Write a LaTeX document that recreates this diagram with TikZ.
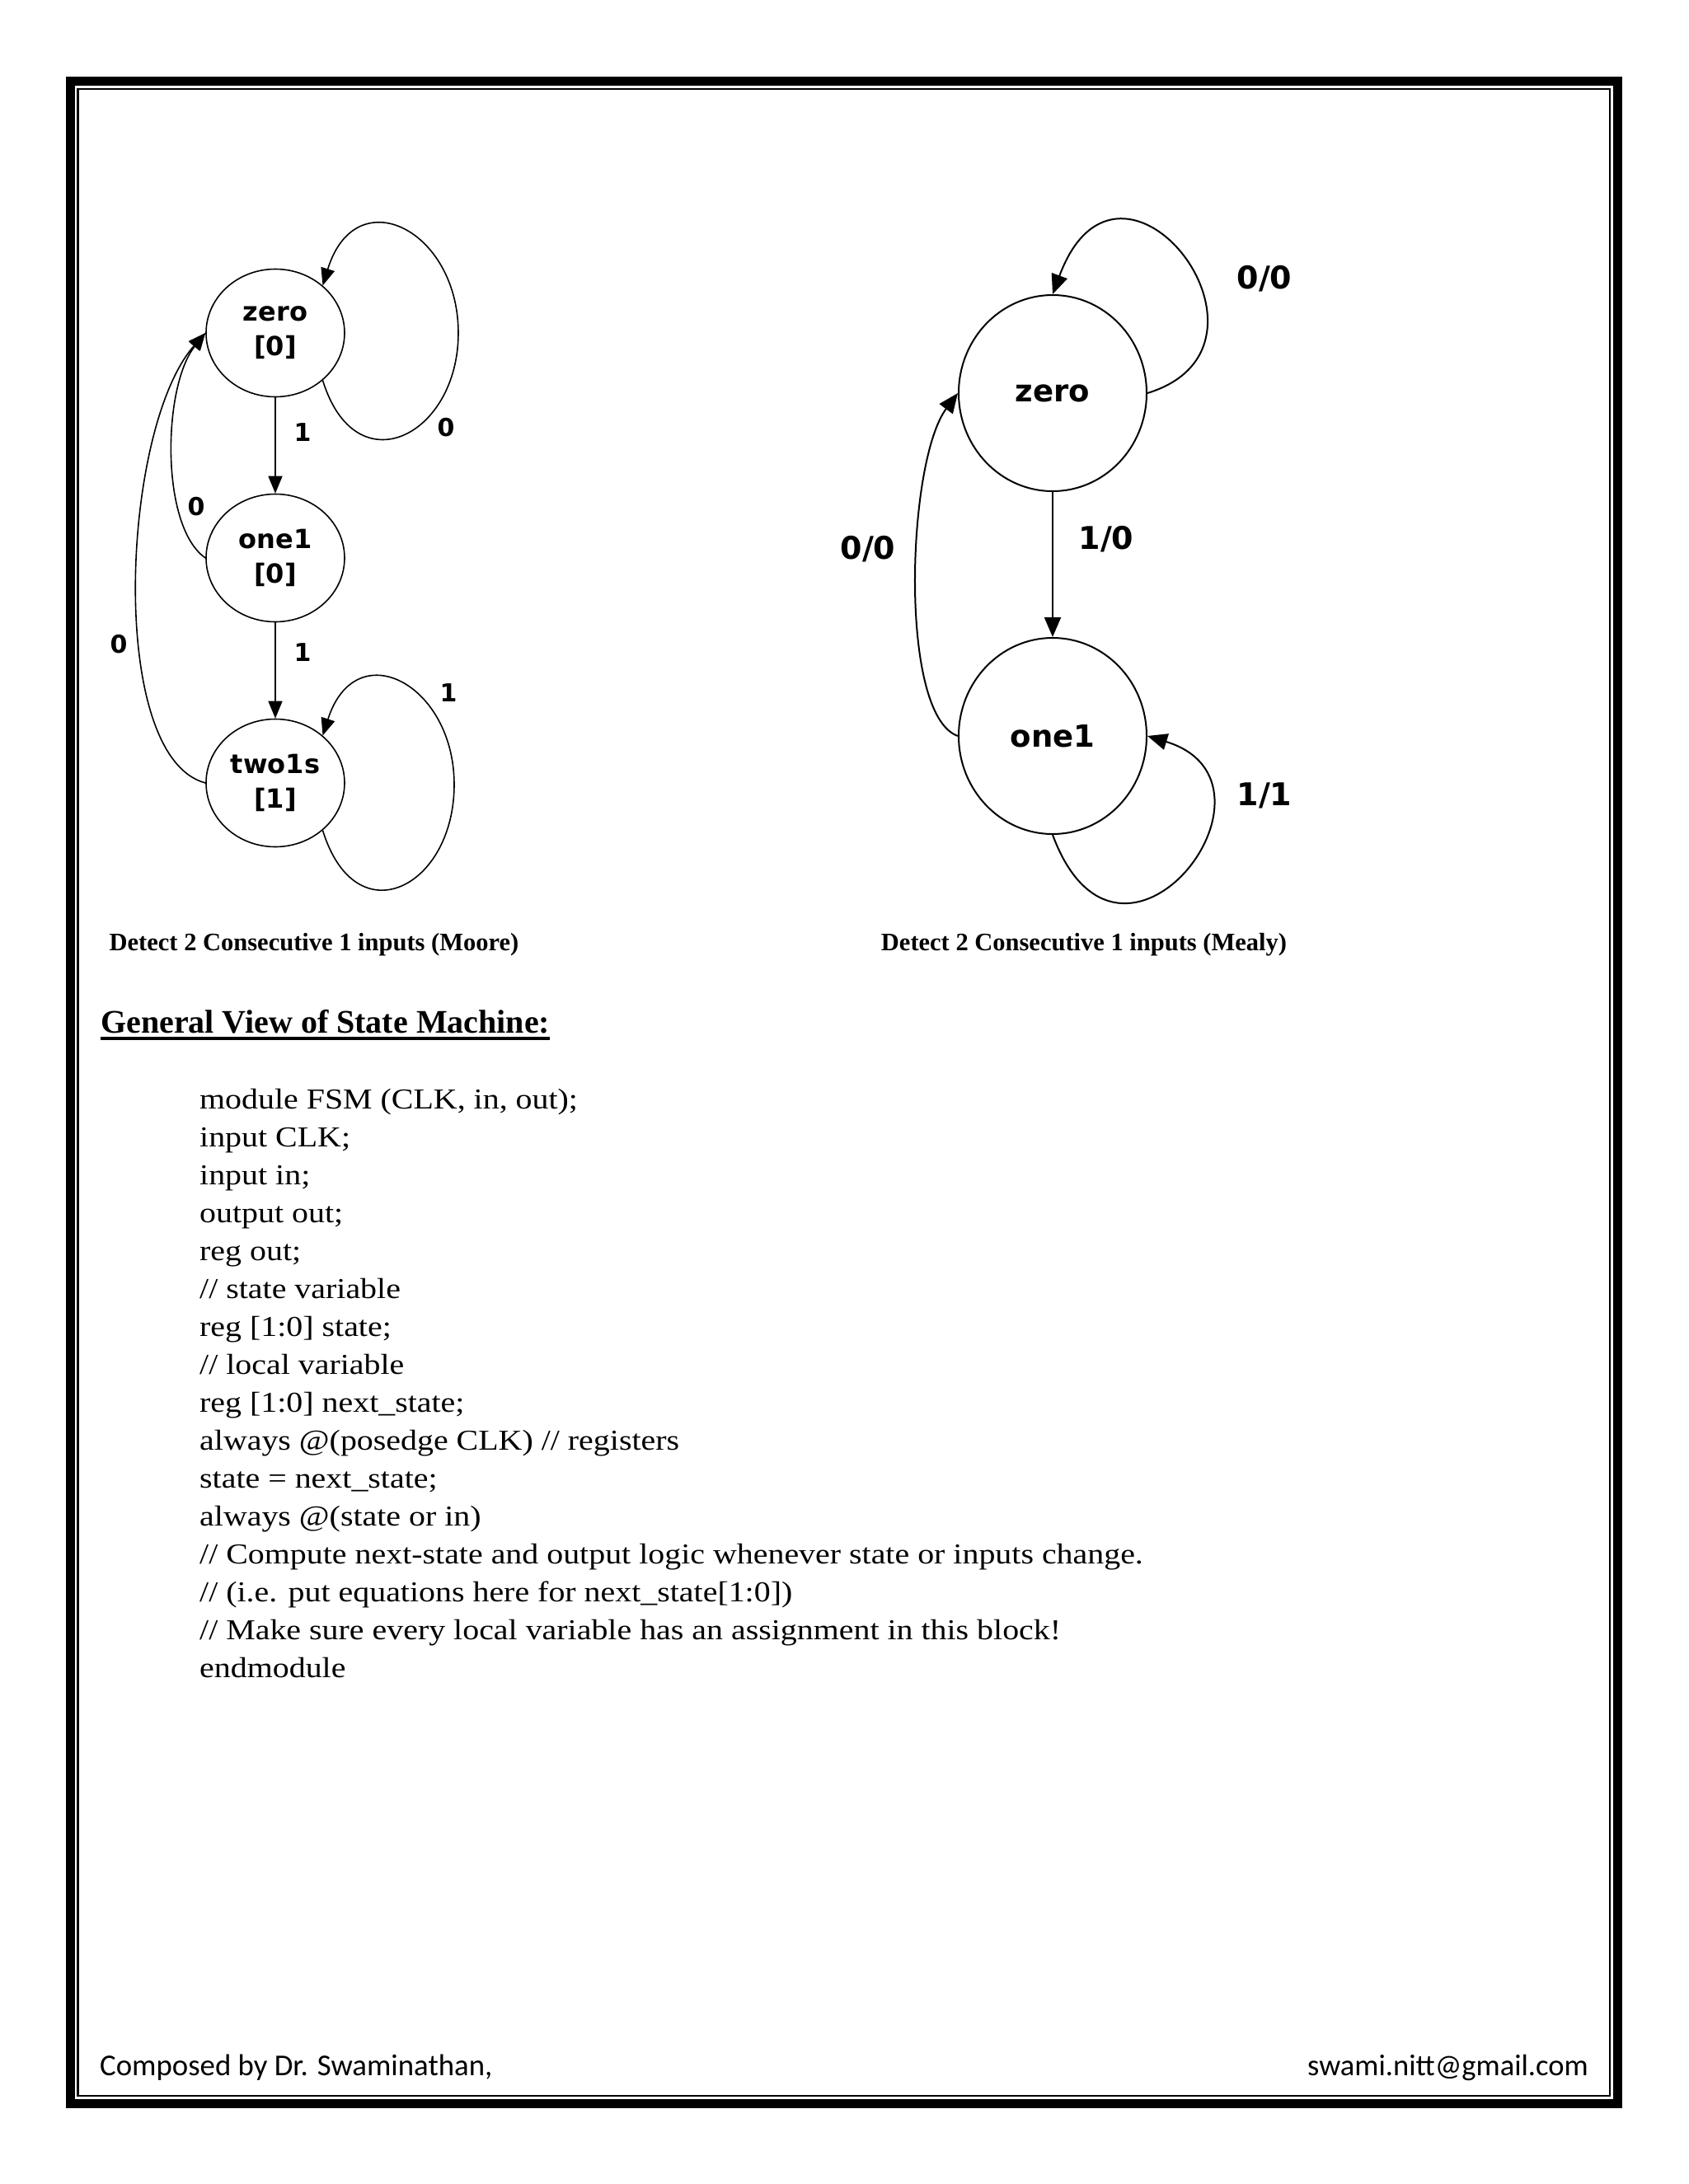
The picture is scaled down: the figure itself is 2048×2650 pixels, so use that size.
\documentclass[tikz,border=0pt]{standalone}
\usepackage{fontspec}
\setmainfont{Liberation Serif}
\newfontfamily\codefont[FakeStretch=1.14]{Liberation Serif}
\newfontfamily\statefont{DejaVu Sans}
\newfontfamily\footfont{Carlito}
\usetikzlibrary{shapes.geometric,arrows.meta}

\begin{document}
\begin{tikzpicture}[x=1pt,y=1pt,
    moore/.style={draw, ellipse, line width=1.6pt, minimum width=168pt, minimum height=155pt,
      inner sep=0pt, align=center, font=\statefont\bfseries\fontsize{32}{42}\selectfont},
    mealy/.style={draw, ellipse, line width=2pt, minimum width=228pt, minimum height=238pt,
      inner sep=0pt, font=\statefont\bfseries\fontsize{37}{44}\selectfont},
    trans/.style={line width=1.6pt, -{Triangle[length=21pt,width=17pt]}},
    mtrans/.style={line width=2pt, -{Triangle[length=24pt,width=20pt]}},
    lbl/.style={font=\statefont\bfseries\fontsize{30}{36}\selectfont},
    mlbl/.style={font=\statefont\bfseries\fontsize{38}{44}\selectfont},
    code/.style={anchor=base west, inner sep=0pt, font=\codefont\fontsize{35}{46}\selectfont}]
        \useasboundingbox (0,0) rectangle (2048,-2650);

        % page frame: thick outer line, thin inner line
        \draw[line width=11pt] (85.5,-98) rectangle (1962.5,-2552);
        \draw[line width=2.5pt] (94.5,-108) rectangle (1953,-2543);

        % Moore machine
        \node[moore] (m0) at (334,-404) {zero\\{[0]}};
        \node[moore] (m1) at (334,-677) {one1\\{[0]}};
        \node[moore] (m2) at (334,-950) {two1s\\{[1]}};
        \coordinate (r0) at (556,-404); % right side of the self loops
        \coordinate (r2) at (551,-952);

        \draw[trans] (m0) -- (m1);
        \draw[trans] (m1) -- (m2);
        \draw[trans] (m0.-45) .. controls +(40,-130) and +(0,-125) .. (r0)
                              .. controls +(0,125) and +(40,130) .. (m0.45);
        \draw[trans] (m2.-45) .. controls +(40,-130) and +(0,-125) .. (r2)
                              .. controls +(0,122) and +(40,125) .. (m2.45);
        \draw[trans] (m1.west) .. controls +(-55,38) and +(-52,-65) .. (m0.west);
        \draw[trans] (m2.west) .. controls +(-120,32) and +(-102,-115) .. (m0.west);

        \node[lbl] (l01) at (367,-525) {1};
        \node[lbl] (l12) at (367,-792) {1};
        \node[lbl] (l00) at (541,-519) {0};
        \node[lbl] (l10) at (238,-615) {0};
        \node[lbl] (l20) at (144,-782) {0};
        \node[lbl] (l22) at (544,-841) {1};

        % Mealy machine
        \node[mealy] (z0) at (1277,-477) {zero};
        \node[mealy] (z1) at (1277,-893) {one1};

        \draw[mtrans] (z0) -- (z1);
        \draw[mtrans] (z0.east) .. controls +(186,57) and +(82,221) .. (z0.north);
        \draw[mtrans] (z1.south) .. controls +(82,-221) and +(186,-57) .. (z1.east);
        \draw[mtrans] (z1.west) .. controls +(-72,25) and +(-62,-83) .. (z0.west);

        \node[mlbl] (k00) at (1534,-338) {0/0};
        \node[mlbl] (k01) at (1342,-654) {1/0};
        \node[mlbl] (k10) at (1053,-666) {0/0};
        \node[mlbl] (k11) at (1534,-965) {1/1};

        % captions
        \node[anchor=base, inner sep=0pt, font=\bfseries\fontsize{30.5}{36}\selectfont] (capA) at (381,-1153)
          {Detect 2 Consecutive 1 inputs (Moore)};
        \node[anchor=base, inner sep=0pt, font=\bfseries\fontsize{30.5}{36}\selectfont] (capB) at (1315,-1153)
          {Detect 2 Consecutive 1 inputs (Mealy)};

        % heading
        \node[anchor=base west, inner sep=0pt, font=\bfseries\fontsize{40}{48}\selectfont] (head) at (122,-1253)
          {General View of State Machine:};
        \draw[line width=4pt] ([yshift=-7pt]head.base west) -- ([yshift=-7pt]head.base east);

        % Verilog skeleton
        \foreach \ln [count=\i] in {{module FSM (CLK, in, out);}, {input CLK;}, {input in;}, {output out;},
            {reg out;}, {// state variable}, {reg [1:0] state;}, {// local variable},
            {reg [1:0] next\_state;}, {always @(posedge CLK) // registers}, {state = next\_state;},
            {always @(state or in)}, {// Compute next-state and output logic whenever state or inputs change.},
            {// (i.e. put equations here for next\_state[1:0])},
            {// Make sure every local variable has an assignment in this block!}, {endmodule}}
          \node[code] (code\i) at (242,{-1345-46*(\i-1)}) {\ln};

        % footer
        \node[anchor=base west, inner sep=0pt, font=\footfont\fontsize{36.8}{43}\selectfont] (foot) at (121,-2518)
          {Composed by Dr. Swaminathan,};
        \node[anchor=base east, inner sep=0pt, font=\footfont\fontsize{36.5}{43}\selectfont] (mail) at (1927,-2518)
          {swami.nitt@gmail.com};
\end{tikzpicture}
\end{document}
